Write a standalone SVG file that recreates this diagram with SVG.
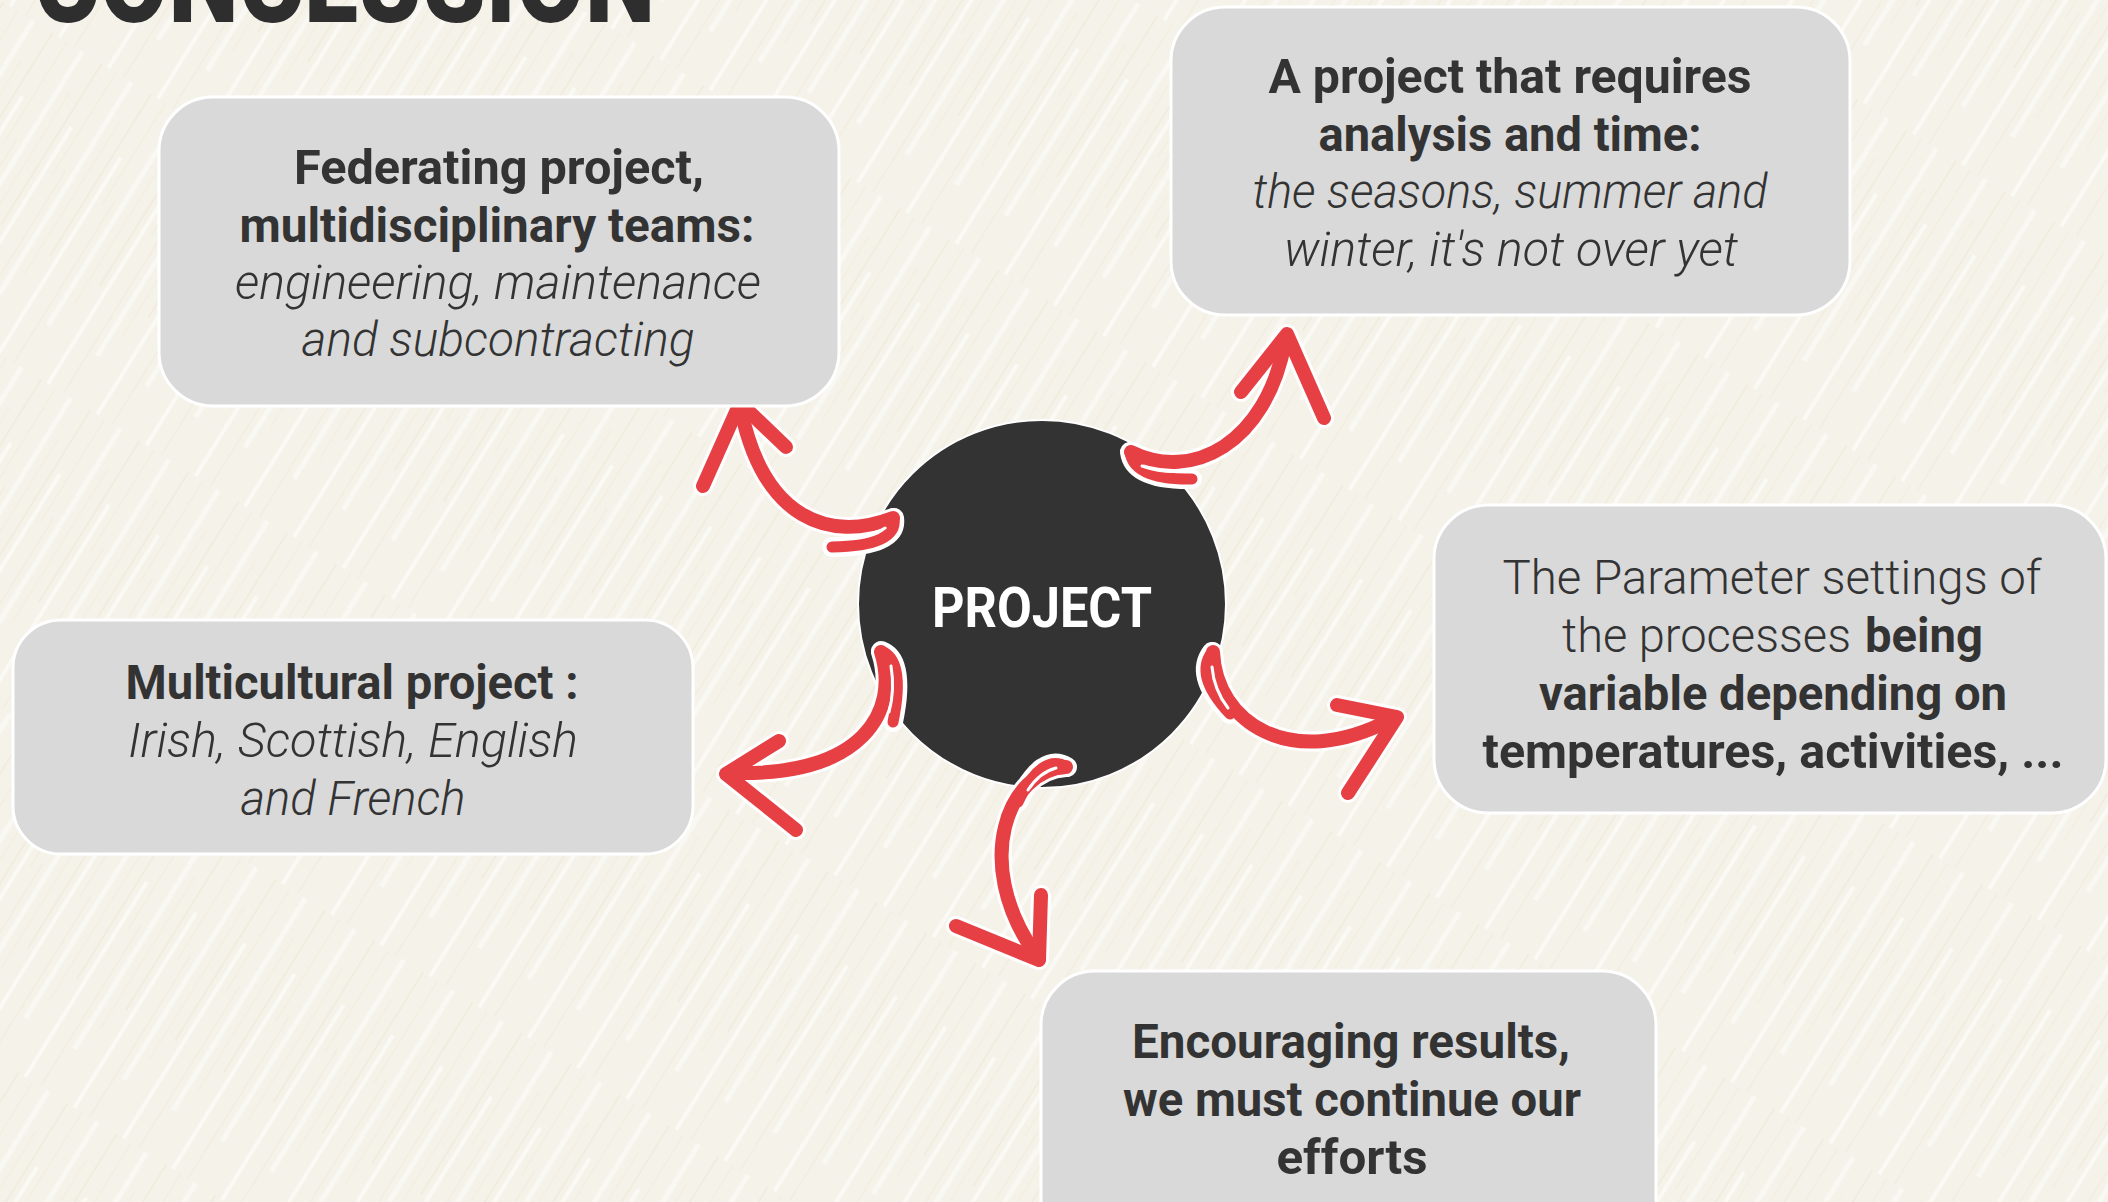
<svg xmlns="http://www.w3.org/2000/svg" xmlns:xlink="http://www.w3.org/1999/xlink" width="2108" height="1202" viewBox="0 0 2108 1202">
<style>
.box{fill:#d9d9d9;stroke:#ffffff;stroke-width:3}
.t{font-family:Roboto,'Liberation Sans',sans-serif;fill:#333333;font-size:48px;text-anchor:middle}
.b{font-weight:700}
.i{font-style:italic;font-weight:300}
.r{font-weight:300}
.halo{fill:none;stroke:#ffffff;stroke-width:20;stroke-linecap:round;stroke-linejoin:round}
.ink{fill:none;stroke:#e64044;stroke-width:14;stroke-linecap:round;stroke-linejoin:round}
.hook{fill:none;stroke:#e64044;stroke-width:11;stroke-linecap:round;stroke-linejoin:round}
.slit{fill:none;stroke:#ffffff;stroke-width:3;stroke-linecap:round}
</style>
<defs>
<pattern id="tex" width="58" height="300" patternUnits="userSpaceOnUse" patternTransform="rotate(32)">
<rect width="58" height="300" fill="#f5f2ea"/>
<line x1="4" y1="0" x2="4" y2="190" stroke="#ede5cc" stroke-width="1.3" opacity="0.7"/>
<line x1="12" y1="70" x2="12" y2="300" stroke="#fbfaf5" stroke-width="4" opacity="0.9"/>
<line x1="21" y1="0" x2="21" y2="120" stroke="#efe7ce" stroke-width="1" opacity="0.7"/>
<line x1="30" y1="110" x2="30" y2="300" stroke="#ebe2c6" stroke-width="1" opacity="0.5"/>
<line x1="39" y1="0" x2="39" y2="250" stroke="#fbfaf5" stroke-width="5" opacity="0.85"/>
<line x1="50" y1="40" x2="50" y2="220" stroke="#efe7cd" stroke-width="1" opacity="0.6"/>
</pattern>
<path id="a1b" d="M 893 518 C 830 542, 764 520, 741 410"/>
<path id="a1h" d="M 703 486 L 740 403 L 786 447"/>
<path id="a1k" d="M 894 518 Q 898 546 832 547"/>
<path id="a1s" d="M 840 539 Q 872 536 885 528"/>
<path id="a2b" d="M 1131 452 C 1192 482, 1266 444, 1285 342"/>
<path id="a2h" d="M 1241 392 L 1287 334 L 1324 418"/>
<path id="a2k" d="M 1130 452 Q 1134 480 1192 479"/>
<path id="a2s" d="M 1142 466 Q 1162 473 1184 471"/>
<path id="a3b" d="M 881 652 C 900 712, 862 776, 734 773"/>
<path id="a3h" d="M 779 741 L 726 774 L 796 830"/>
<path id="a3k" d="M 881 651 Q 906 660 893 722"/>
<path id="a3s" d="M 891 666 Q 895 690 889 712"/>
<path id="a4b" d="M 1066 767 C 1008 770, 972 862, 1034 952"/>
<path id="a4h" d="M 956 926 L 1039 960 L 1041 895"/>
<path id="a4k" d="M 1067 767 Q 1042 752 1018 802"/>
<path id="a4s" d="M 1056 768 Q 1040 772 1028 790"/>
<path id="a5b" d="M 1213 652 C 1216 722, 1290 772, 1390 720"/>
<path id="a5h" d="M 1337 705 L 1397 717 L 1348 793"/>
<path id="a5k" d="M 1212 652 Q 1194 676 1230 714"/>
<path id="a5s" d="M 1212 667 Q 1214 690 1228 708"/>
</defs>
<rect width="2108" height="1202" fill="url(#tex)"/>
<text x="34" y="22" font-family="Roboto,'Liberation Sans',sans-serif" font-weight="900" font-size="118" fill="#2e2e2e" textLength="621" lengthAdjust="spacingAndGlyphs">CONCLUSION</text>

<g id="node-project">
<circle cx="1042" cy="604" r="184" fill="#333333" stroke="#ffffff" stroke-width="2"/>
<text x="1042" y="627" font-family="Roboto,'Liberation Sans',sans-serif" font-weight="700" font-size="56" fill="#ffffff" text-anchor="middle" textLength="220" lengthAdjust="spacingAndGlyphs">PROJECT</text>
</g>

<g id="connectors">
<g id="arrow-1"><use xlink:href="#a1b" class="halo"/><use xlink:href="#a1h" class="halo"/><use xlink:href="#a1k" class="halo"/><use xlink:href="#a1b" class="ink"/><use xlink:href="#a1h" class="ink"/><use xlink:href="#a1k" class="hook"/><use xlink:href="#a1s" class="slit"/></g>
<g id="arrow-2"><use xlink:href="#a2b" class="halo"/><use xlink:href="#a2h" class="halo"/><use xlink:href="#a2k" class="halo"/><use xlink:href="#a2b" class="ink"/><use xlink:href="#a2h" class="ink"/><use xlink:href="#a2k" class="hook"/><use xlink:href="#a2s" class="slit"/></g>
<g id="arrow-3"><use xlink:href="#a3b" class="halo"/><use xlink:href="#a3h" class="halo"/><use xlink:href="#a3k" class="halo"/><use xlink:href="#a3b" class="ink"/><use xlink:href="#a3h" class="ink"/><use xlink:href="#a3k" class="hook"/><use xlink:href="#a3s" class="slit"/></g>
<g id="arrow-4"><use xlink:href="#a4b" class="halo"/><use xlink:href="#a4h" class="halo"/><use xlink:href="#a4k" class="halo"/><use xlink:href="#a4b" class="ink"/><use xlink:href="#a4h" class="ink"/><use xlink:href="#a4k" class="hook"/><use xlink:href="#a4s" class="slit"/></g>
<g id="arrow-5"><use xlink:href="#a5b" class="halo"/><use xlink:href="#a5h" class="halo"/><use xlink:href="#a5k" class="halo"/><use xlink:href="#a5b" class="ink"/><use xlink:href="#a5h" class="ink"/><use xlink:href="#a5k" class="hook"/><use xlink:href="#a5s" class="slit"/></g>
</g>

<g id="node-federating">
<rect class="box" x="159" y="97" width="680" height="309" rx="54"/>
<text class="t b" x="499" y="184" textLength="410" lengthAdjust="spacingAndGlyphs">Federating project,</text>
<text class="t b" x="497" y="242" textLength="515" lengthAdjust="spacingAndGlyphs">multidisciplinary teams:</text>
<text class="t i" x="498" y="299" textLength="526" lengthAdjust="spacingAndGlyphs">engineering, maintenance</text>
<text class="t i" x="498" y="356" textLength="393" lengthAdjust="spacingAndGlyphs">and subcontracting</text>
</g>

<g id="node-analysis">
<rect class="box" x="1171" y="7" width="679" height="308" rx="54"/>
<text class="t b" x="1510" y="93" textLength="483" lengthAdjust="spacingAndGlyphs">A project that requires</text>
<text class="t b" x="1510" y="151" textLength="383" lengthAdjust="spacingAndGlyphs">analysis and time:</text>
<text class="t i" x="1510" y="208" textLength="515" lengthAdjust="spacingAndGlyphs">the seasons, summer and</text>
<text class="t i" x="1511" y="266" textLength="454" lengthAdjust="spacingAndGlyphs">winter, it's not over yet</text>
</g>

<g id="node-multicultural">
<rect class="box" x="13" y="620" width="680" height="234" rx="48"/>
<text class="t b" x="352" y="699" textLength="453" lengthAdjust="spacingAndGlyphs">Multicultural project :</text>
<text class="t i" x="353" y="757" textLength="450" lengthAdjust="spacingAndGlyphs">Irish, Scottish, English</text>
<text class="t i" x="353" y="815" textLength="225" lengthAdjust="spacingAndGlyphs">and French</text>
</g>

<g id="node-parameters">
<rect class="box" x="1434" y="505" width="672" height="308" rx="54"/>
<text class="t r" x="1772" y="594" textLength="539" lengthAdjust="spacingAndGlyphs">The Parameter settings of</text>
<text class="t r" x="1562" y="652" style="text-anchor:start" textLength="289" lengthAdjust="spacingAndGlyphs">the processes</text>
<text class="t b" x="1865" y="652" style="text-anchor:start" textLength="118" lengthAdjust="spacingAndGlyphs">being</text>
<text class="t b" x="1773" y="710" textLength="468" lengthAdjust="spacingAndGlyphs">variable depending on</text>
<text class="t b" x="1773" y="768" textLength="581" lengthAdjust="spacingAndGlyphs">temperatures, activities, ...</text>
</g>

<g id="node-results">
<rect class="box" x="1041" y="971" width="615" height="300" rx="54"/>
<text class="t b" x="1351" y="1058" textLength="438" lengthAdjust="spacingAndGlyphs">Encouraging results,</text>
<text class="t b" x="1352" y="1116" textLength="458" lengthAdjust="spacingAndGlyphs">we must continue our</text>
<text class="t b" x="1352" y="1174" textLength="151" lengthAdjust="spacingAndGlyphs">efforts</text>
</g>
</svg>
